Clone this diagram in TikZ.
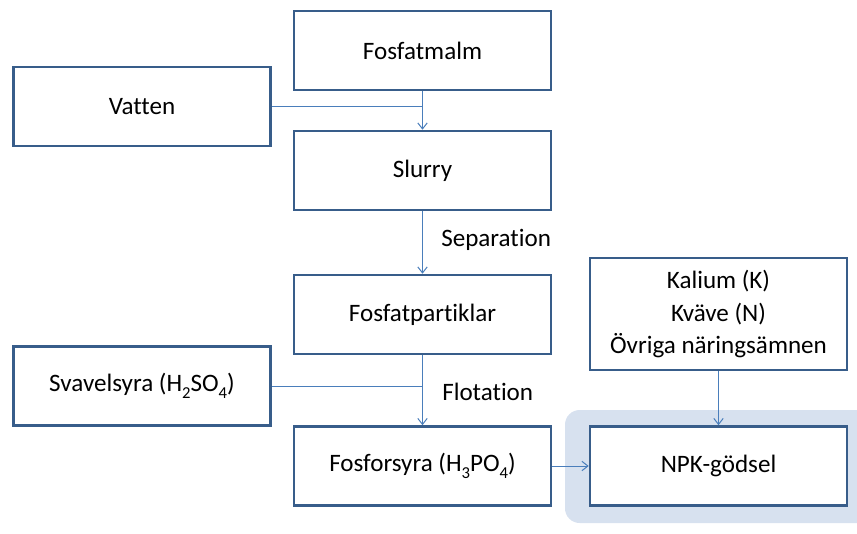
\documentclass[tikz,border=0pt]{standalone}
\usepackage{fontspec}
\setmainfont{Carlito}[RawFeature={-liga}]
\usetikzlibrary{arrows.meta}
\definecolor{boxline}{HTML}{385D8A}
\definecolor{flowline}{HTML}{4A7EBB}
\definecolor{npkbg}{HTML}{D7E1EF}
% chemical index, set low and small
\newcommand\chemsub[1]{\raisebox{-0.28em}{\fontsize{12.5}{12.5}\selectfont #1}}
\begin{document}
\begin{tikzpicture}[x=0.75pt,y=-0.75pt,
  box/.style={draw=boxline, line width=1.9pt, fill=white, minimum width=192.75pt,
    minimum height=59.25pt, inner sep=0pt, align=center, font=\fontsize{18.8}{24.5}\selectfont},
  flow/.style={draw=flowline, line width=0.75pt},
  arr/.style={flow, -{Straight Barb[length=4.5pt,width=7pt]}},
  lbl/.style={anchor=west, inner sep=0pt, font=\fontsize{18.8}{24}\selectfont}]
\useasboundingbox (0,0) rectangle (857,533);
% highlighted end product
\fill[npkbg, rounded corners=11pt] (565,410) rectangle (880,523);
% process column
\node[box] (malm) at (422.5,50.5) {Fosfatmalm};
\node[box] (vatten) at (142,106.5) {Vatten};
\node[box] (slurry) at (422.5,170.5) {Slurry};
\node[box] (part) at (422.5,314.5) {Fosfatpartiklar};
\node[box] (svavel) at (142,386) {Svavelsyra (H\chemsub{2}SO\chemsub{4})};
\node[box] (fosfor) at (422.5,466) {Fosforsyra (H\chemsub{3}PO\chemsub{4})};
\node[box, minimum height=84pt] (kalium) at (718.5,314) {Kalium (K)\\Kväve (N)\\Övriga näringsämnen};
\node[box] (npk) at (718.5,466) {NPK-gödsel};
% connectors
\coordinate (j1) at (malm.south |- vatten.east);
\coordinate (j2) at (part.south |- svavel.east);
\draw[flow] (vatten.east) -- (j1);
\draw[arr] (malm.south) -- (slurry.north);
\draw[arr] (slurry.south) -- (part.north);
\draw[flow] (svavel.east) -- (j2);
\draw[arr] (part.south) -- (fosfor.north);
\draw[arr] (fosfor.east) -- (npk.west);
\draw[arr] (kalium.south) -- (npk.north);
% step labels
\node[lbl] (sep) at (441,240) {Separation};
\node[lbl] (flot) at (442,392) {Flotation};
\end{tikzpicture}
\end{document}
